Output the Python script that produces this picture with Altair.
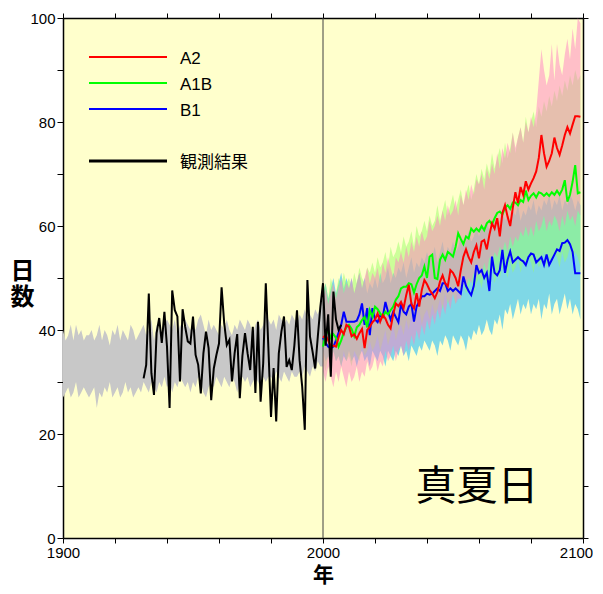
import altair as alt
import pandas as pd

# ---------------- data ----------------
hist_years = list(range(1900, 2001))
gray_hi = [40, 38, 39, 41, 38, 41, 39, 40, 38, 39,
           39, 40, 38, 39, 41, 38, 40, 39, 37, 40,
           39, 41, 38, 40, 39, 38, 41, 40, 38, 39,
           40, 41, 39, 40, 42, 38, 41, 40, 39, 41,
           42, 41, 40, 42, 39, 41, 40, 42, 41, 40,
           41, 40, 42, 43, 41, 39, 42, 40, 41, 40,
           39, 41, 40, 42, 40, 39, 41, 40, 42, 41,
           40, 42, 41, 39, 41, 42, 40, 41, 43, 42,
           41, 42, 40, 43, 42, 41, 42, 41, 43, 42,
           41, 43, 42, 44, 42, 43, 42, 44, 43, 45,
           46]
gray_lo = [27, 28, 29, 27, 28, 30, 27, 28, 29, 28,
           27, 28, 29, 25, 28, 27, 29, 28, 30, 27,
           28, 29, 27, 28, 30, 28, 29, 27, 28, 29,
           28, 30, 29, 28, 30, 29, 28, 30, 29, 31,
           29, 30, 28, 30, 29, 31, 30, 29, 30, 28,
           30, 29, 31, 30, 28, 27, 29, 30, 29, 31,
           30, 29, 31, 30, 29, 31, 30, 28, 30, 31,
           30, 31, 29, 30, 31, 30, 29, 31, 30, 31,
           31, 30, 32, 31, 30, 32, 31, 30, 32, 31,
           31, 32, 31, 33, 32, 31, 33, 32, 34, 33,
           33]

obs_years = list(range(1931, 2008))
obs_vals = [30.7, 33.3, 47.0, 31.7, 27.5, 39.4, 42.3, 37.5, 43.5, 36.8,
            25.0, 47.6, 43.8, 42.6, 30.1, 44.0, 40.6, 37.8, 37.4, 42.6,
            35.2, 33.3, 27.8, 35.5, 39.7, 36.5, 26.5, 32.6, 35.2, 37.4,
            48.2, 41.3, 37.1, 38.1, 30.1, 35.5, 39.2, 26.9, 35.0, 39.4,
            35.5, 32.3, 40.6, 27.9, 41.6, 26.2, 33.6, 49.0, 36.5, 23.3,
            32.7, 22.4, 35.5, 39.7, 42.6, 32.9, 34.2, 32.3, 37.1, 43.8,
            34.2, 29.1, 20.8, 49.6, 38.7, 35.8, 32.6, 38.7, 44.5, 49.0,
            37.0, 43.0, 31.0, 47.4, 42.0, 40.0, 41.0]

fut_years = list(range(2000, 2100))
a2_mean = [38.5, 39.0, 38.0, 36.8, 37.0, 36.8, 38.6, 40.0, 39.2, 41.0,
           40.6, 38.8, 39.2, 38.3, 39.4, 40.2, 36.5, 40.0, 40.6, 41.5,
           42.0, 43.2, 41.6, 42.9, 42.2, 41.0, 40.3, 43.0, 45.1, 44.6,
           45.4, 44.2, 46.7, 48.7, 45.0, 44.2, 47.1, 44.5, 47.7, 49.6,
           48.8, 47.7, 47.0, 46.1, 47.3, 49.3, 50.5, 49.0, 48.4, 51.5,
           51.0, 50.0, 48.4, 51.5, 54.1, 55.5, 54.0, 53.0, 55.0, 56.3,
           53.8, 57.0, 57.3, 55.5, 58.3, 60.5, 59.5, 61.5, 58.0, 62.5,
           64.0, 61.8, 60.0, 63.5, 66.5, 64.4, 67.5, 66.0, 68.6, 67.0,
           68.2, 69.2, 70.5, 73.1, 77.5, 74.0, 71.4, 72.5, 74.0, 77.0,
           75.0, 73.7, 75.5, 77.5, 79.0, 77.8, 79.5, 81.1, 81.1, 81.0]
a1b_mean = [36.8, 39.0, 40.0, 38.5, 39.2, 38.5, 36.8, 38.0, 39.5, 40.5,
            41.0, 40.2, 38.8, 40.5, 41.0, 41.9, 42.5, 40.5, 43.8, 42.5,
            44.5, 44.0, 43.2, 42.5, 43.5, 43.0, 43.8, 44.5, 45.8, 46.5,
            48.0, 48.3, 48.3, 49.0, 48.8, 47.2, 48.8, 50.0, 50.5, 52.2,
            50.0, 54.1, 54.5, 50.0, 49.8, 53.5, 54.5, 53.5, 55.0, 54.6,
            54.1, 56.0, 58.6, 57.5, 56.5, 58.0, 57.6, 59.5, 58.9, 59.5,
            59.0, 60.0, 59.2, 60.5, 61.0, 60.3, 61.5, 62.5, 62.8, 62.2,
            63.5, 64.0, 63.3, 64.5, 64.5, 64.0, 65.0, 64.6, 66.8, 65.0,
            65.8, 66.3, 65.5, 66.5, 66.3, 65.8, 66.3, 65.8, 66.5, 66.0,
            66.8, 66.0, 67.0, 68.8, 64.7, 66.0, 68.5, 71.7, 66.3, 66.5]
b1_mean = [38.5, 37.5, 36.8, 36.5, 36.8, 38.0, 39.5, 41.0, 43.5, 41.6,
           41.6, 41.6, 41.6, 41.8, 43.0, 45.1, 41.0, 44.2, 39.0, 44.2,
           42.0, 41.5, 42.8, 42.5, 45.4, 43.5, 42.0, 43.5, 42.5, 41.5,
           45.0, 43.5, 43.0, 44.5, 45.0, 41.6, 44.5, 45.5, 46.5, 46.5,
           47.0, 46.8, 47.0, 47.5, 48.0, 47.5, 49.0, 49.0, 47.5, 48.0,
           47.5, 48.0, 47.5, 47.0, 50.3, 48.5, 47.5, 46.7, 48.5, 52.5,
           51.0, 51.5, 50.0, 51.0, 47.5, 54.1, 51.0, 50.5, 51.5, 55.4,
           51.0, 53.5, 55.1, 53.0, 53.5, 54.0, 53.5, 53.2, 52.5, 54.0,
           54.7, 54.5, 53.0, 53.5, 54.0, 52.5, 54.5, 52.5, 53.5, 54.5,
           55.5, 55.2, 56.7, 56.8, 57.3, 56.5, 55.0, 50.9, 50.9, 50.9]

a2_hi = [46, 48, 45, 47, 49, 46, 48, 50, 47, 49,
         48, 50, 47, 49, 51, 48, 50, 52, 49, 51,
         50, 52, 49, 53, 51, 54, 52, 50, 54, 53,
         55, 53, 56, 54, 57, 55, 58, 56, 59, 57,
         58, 61, 59, 60, 62, 60, 63, 61, 64, 62,
         63, 65, 62, 66, 64, 67, 65, 68, 66, 69,
         68, 70, 67, 71, 69, 72, 70, 74, 71, 75,
         73, 76, 74, 78, 75, 77, 79, 76, 80, 78,
         81, 79, 82, 88, 94, 90, 87, 89, 95, 88,
         95, 91, 89, 93, 96, 92, 98, 94, 100, 99]
a2_lo = [32, 30, 33, 31, 29, 32, 30, 33, 31, 29,
         32, 30, 31, 33, 30, 32, 31, 34, 32, 33,
         35, 32, 34, 33, 36, 34, 35, 37, 34, 36,
         37, 35, 38, 36, 39, 37, 40, 38, 41, 39,
         42, 40, 43, 41, 44, 42, 45, 43, 46, 44,
         47, 45, 46, 46, 49, 48, 50, 49, 51, 50,
         52, 50, 53, 51, 54, 53, 55, 54, 56, 55,
         57, 55, 58, 56, 58, 57, 59, 58, 60, 58,
         60, 58, 61, 59, 60, 62, 59, 61, 60, 62,
         61, 59, 62, 60, 63, 61, 62, 60, 63, 62]
a1b_hi = [47, 49, 46, 50, 48, 47, 50, 48, 51, 49,
          50, 48, 51, 49, 52, 50, 49, 52, 51, 53,
          51, 54, 52, 53, 55, 52, 56, 54, 55, 57,
          55, 58, 56, 57, 59, 56, 60, 58, 59, 61,
          59, 62, 60, 61, 64, 61, 63, 65, 62, 64,
          66, 63, 65, 67, 64, 66, 68, 65, 67, 70,
          68, 71, 69, 72, 70, 74, 71, 73, 75, 72,
          76, 73, 75, 78, 74, 77, 79, 76, 81, 78,
          80, 82, 79, 83, 81, 84, 82, 85, 83, 86,
          84, 87, 85, 88, 86, 89, 87, 90, 88, 89]
a1b_lo = [34, 32, 35, 33, 36, 34, 35, 33, 36, 34,
          35, 33, 36, 35, 34, 37, 35, 36, 38, 36,
          37, 39, 36, 38, 40, 37, 39, 41, 38, 40,
          41, 39, 42, 40, 43, 41, 42, 44, 41, 43,
          44, 42, 45, 43, 44, 46, 44, 47, 45, 46,
          47, 45, 48, 46, 49, 47, 48, 50, 47, 49,
          50, 48, 51, 49, 50, 52, 49, 51, 50, 52,
          52, 50, 53, 51, 52, 54, 51, 53, 52, 54,
          53, 51, 54, 52, 53, 55, 52, 54, 53, 55,
          54, 52, 55, 53, 54, 56, 53, 55, 54, 52]
b1_hi = [47, 49, 46, 48, 50, 47, 49, 51, 48, 50,
         48, 50, 47, 49, 51, 48, 50, 47, 49, 48,
         50, 48, 51, 49, 50, 52, 49, 51, 50, 52,
         51, 53, 50, 52, 54, 51, 53, 52, 54, 53,
         55, 53, 54, 56, 53, 55, 57, 54, 56, 55,
         57, 55, 56, 58, 56, 57, 59, 57, 58, 60,
         58, 60, 59, 61, 59, 60, 62, 60, 61, 63,
         61, 62, 60, 63, 62, 64, 61, 63, 62, 64,
         63, 65, 62, 64, 63, 65, 64, 66, 63, 65,
         64, 66, 63, 65, 64, 66, 65, 63, 65, 64]
b1_lo = [36, 34, 35, 33, 36, 34, 35, 33, 35, 34,
         36, 34, 35, 33, 35, 36, 34, 35, 33, 36,
         35, 34, 36, 35, 33, 36, 35, 34, 36, 35,
         37, 35, 36, 34, 37, 36, 35, 37, 36, 38,
         37, 36, 38, 37, 35, 38, 37, 39, 38, 36,
         39, 38, 37, 39, 38, 36, 39, 38, 40, 39,
         41, 39, 40, 42, 40, 39, 42, 41, 43, 40,
         44, 43, 45, 42, 44, 46, 43, 45, 44, 46,
         43, 45, 44, 46, 42, 45, 44, 47, 43, 45,
         46, 43, 45, 47, 44, 46, 43, 45, 44, 42]

legend_labels = ["A2", "A1B", "B1", "観測結果"]
legend_colors = ["#ff0000", "#00ff00", "#0000ff", "#000000"]
panel_label = "真夏日"
x_title = "年"
y_title = ["日", "数"]

# ---------------- frames ----------------
hist = pd.DataFrame({"year": hist_years, "lo": gray_lo, "hi": gray_hi})
obs = pd.DataFrame({"year": obs_years, "val": obs_vals})
fut = pd.DataFrame({"year": fut_years,
                    "a2": a2_mean, "a2_lo": a2_lo, "a2_hi": a2_hi,
                    "a1b": a1b_mean, "a1b_lo": a1b_lo, "a1b_hi": a1b_hi,
                    "b1": b1_mean, "b1_lo": b1_lo, "b1_hi": b1_hi})
vline = pd.DataFrame({"year": [2000], "lo": [0], "hi": [100]})

xs = alt.Scale(domain=[1900, 2100], nice=False, zero=False)
ys = alt.Scale(domain=[0, 100], nice=False)

LAT = "Liberation Sans"
CJK = "Noto Sans CJK JP"

common_axis = dict(domain=True, domainColor="black", domainWidth=1.5,
                   tickColor="black", tickWidth=1, grid=False,
                   labelFont=LAT, labelFontSize=15, labelColor="black",
                   labelOverlap=False, labelFlush=False)

x_bottom = alt.Axis(orient="bottom", values=list(range(1900, 2101, 20)),
                    labelExpr="datum.value % 100 === 0 ? datum.value + '' : ''",
                    labelOffset={"condition": {"test": "datum.value === 2100", "value": -7},
                                 "value": 0},
                    tickSize=5, labelPadding=2,
                    title=x_title, titleFont=CJK, titleFontSize=21,
                    titleFontWeight="bold", titleColor="black",
                    titleX=260, titleY=37, titleAlign="center",
                    titleBaseline="middle",
                    **common_axis)
y_left = alt.Axis(orient="left", values=list(range(0, 101, 10)),
                  labelExpr="datum.value % 20 === 0 ? datum.value + '' : ''",
                  tickSize=6, labelPadding=2,
                  title=y_title, titleAngle=0, titleX=-41, titleY=253,
                  titleAlign="center", titleBaseline="middle",
                  titleFont=CJK, titleFontSize=24, titleFontWeight="bold",
                  titleLineHeight=26, titleColor="black",
                  **common_axis)
x_top = alt.Axis(orient="top", values=list(range(1900, 2101, 20)),
                 labels=False, tickSize=5, title=None, **common_axis)
y_right = alt.Axis(orient="right", values=list(range(0, 101, 10)),
                   labels=False, tickSize=5, title=None, **common_axis)

gray = alt.Chart(hist).mark_area(color="#c8c8c8").encode(
    x=alt.X("year:Q", scale=xs, axis=x_bottom),
    y=alt.Y("lo:Q", scale=ys, axis=y_left),
    y2="hi:Q")


def band(lo, hi, color):
    return alt.Chart(fut).mark_area(color=color, opacity=0.5).encode(
        x=alt.X("year:Q", scale=xs, axis=None),
        y=alt.Y(f"{lo}:Q", scale=ys, axis=None),
        y2=f"{hi}:Q")


def line(df, col, color, width=2):
    return alt.Chart(df).mark_line(color=color, strokeWidth=width).encode(
        x=alt.X("year:Q", scale=xs, axis=None),
        y=alt.Y(f"{col}:Q", scale=ys, axis=None))


b1_band = band("b1_lo", "b1_hi", "#00b2ff")
a1b_band = band("a1b_lo", "a1b_hi", "#99ff66")
a2_band = band("a2_lo", "a2_hi", "#ff7fc4")

v = alt.Chart(vline).mark_rule(color="#404040", strokeWidth=1).encode(
    x=alt.X("year:Q", scale=xs, axis=x_top),
    y=alt.Y("lo:Q", scale=ys, axis=y_right),
    y2="hi:Q")

layers = [gray, b1_band, a1b_band, a2_band, v,
          line(fut, "b1", "#0000ff"), line(fut, "a1b", "#00ff00"),
          line(fut, "a2", "#ff0000"), line(obs, "val", "#000000")]

# legend (inside plot, top-left)
leg_y = [39, 65, 91, 143]
for lab, col, yy in zip(legend_labels, legend_colors, leg_y):
    d = pd.DataFrame({"label": [lab]})
    sw = 3 if col == "#000000" else 2
    layers.append(alt.Chart(d).mark_rule(color=col, strokeWidth=sw).encode(
        x=alt.value(26), x2=alt.value(104), y=alt.value(yy)))
    layers.append(alt.Chart(d).mark_text(
        align="left", baseline="middle", fontSize=17, color="black",
        font=CJK if not lab.isascii() else LAT).encode(
        text="label:N", x=alt.value(117), y=alt.value(yy + 2)))

layers.append(alt.Chart(pd.DataFrame({"t": [panel_label]})).mark_text(
    align="center", baseline="middle", fontSize=41, font=CJK, color="black").encode(
    text="t:N", x=alt.value(414), y=alt.value(470)))

chart = alt.layer(*layers).resolve_axis(x="independent", y="independent").properties(
    width=520, height=520,
    autosize=alt.AutoSizeParams(type="none"),
    padding={"left": 55, "top": 10, "right": 10, "bottom": 48},
    background="white",
).configure_view(fill="#ffffcc", stroke=None)

chart.save("out.html", embed_options={"renderer": "svg", "actions": False})
